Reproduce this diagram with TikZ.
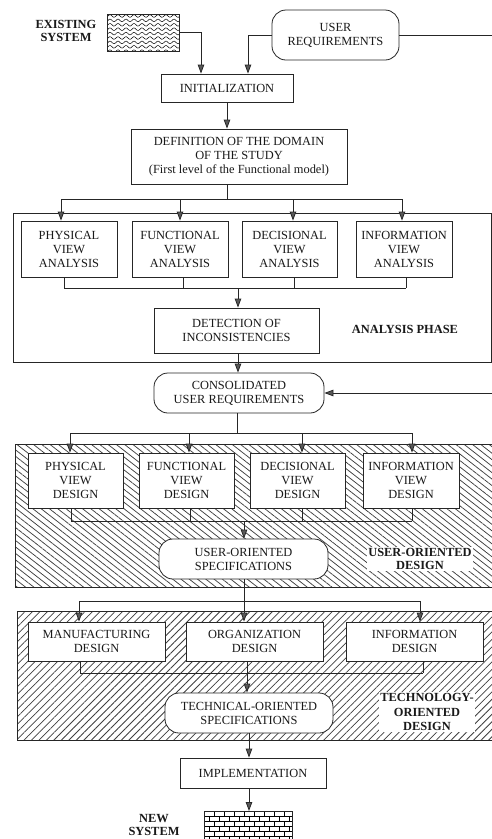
\documentclass[tikz,border=0pt]{standalone}
\usepackage{fontspec}
\setmainfont{Liberation Serif}
\usetikzlibrary{arrows.meta,calc,patterns.meta}
\begin{document}
\begin{tikzpicture}[x=1pt,y=-1pt,
  every node/.style={font=\fontsize{12.4}{14}\selectfont, text=black!90},
  box/.style={draw=black!85, line width=0.8pt, fill=white, align=center, inner sep=0pt},
  rbox/.style={box, rounded corners=14pt},
  lbl/.style={font=\fontsize{12.4}{13.5}\selectfont\bfseries, align=center, inner sep=1.5pt},
  ln/.style={draw=black!85, line width=0.8pt},
  arr/.style={ln, -{Triangle[length=9pt,width=6.5pt,fill=black!65]}},
  frame/.style={draw=black!85, line width=0.8pt}
]
\useasboundingbox (0,0) rectangle (492,839);
\clip (0,0) rectangle (492,839);
\fill[white] (0,0) rectangle (492,839);

% ---------- hatched design regions ----------
\fill[pattern={Lines[angle=-38,distance=5.1pt,line width=0.75pt]}, pattern color=black!75]
  (15,444) rectangle (500,587);
\draw[frame] (500,444) -- (15,444) -- (15,587) -- (500,587);

\fill[pattern={Lines[angle=45,distance=5.3pt,line width=0.75pt]}, pattern color=black!75]
  (17,611) rectangle (500,740);
\draw[frame] (500,611) -- (17,611) -- (17,740) -- (500,740);

% analysis frame
\draw[frame] (13,213) rectangle (491,362);

% ---------- existing system (wavy texture) ----------
\begin{scope}
  \clip (107,14) rectangle (179,51);
  \foreach \r in {0,...,8}
    \draw[line width=0.5pt] plot[domain=105:181,samples=80,smooth]
      (\x,{16+4.4*\r+1.3*sin(45*\x)});
\end{scope}
\node[draw=black!85, line width=0.8pt, minimum width=72, minimum height=37, inner sep=0pt] (exist) at (143,32.5) {};
\node[lbl] (existlbl) at (66,31) {EXISTING\\SYSTEM};

% ---------- new system (brick texture) ----------
\begin{scope}
  \clip (204,811) rectangle (292,845);
  \foreach \r in {0,...,6} {
    \draw[line width=0.5pt] (204,{811+5*\r}) -- (292,{811+5*\r});
    \foreach \c in {-1,...,9}
      \draw[line width=0.5pt] ({204+10*\c+5*mod(\r,2)},{811+5*\r}) -- ++(0,5);
  }
\end{scope}
\node[draw=black!85, line width=0.8pt, minimum width=88, minimum height=40, inner sep=0pt, anchor=north] (newsys) at (248,811) {};
\node[lbl] (newlbl) at (154,825) {NEW\\SYSTEM};

% ---------- boxes ----------
\node[rbox, minimum width=127, minimum height=50] (ureq) at (335.5,35) {USER\\REQUIREMENTS};
\node[box, minimum width=132, minimum height=28] (init) at (227,88) {INITIALIZATION};
\node[box, minimum width=216, minimum height=55] (def) at (239,156.5)
  {DEFINITION OF THE DOMAIN\\OF THE STUDY\\(First level of the Functional model)};

\node[box, minimum width=96, minimum height=56] (pa) at (69,249) {PHYSICAL\\VIEW\\ANALYSIS};
\node[box, minimum width=96, minimum height=56] (fa) at (180,249) {FUNCTIONAL\\VIEW\\ANALYSIS};
\node[box, minimum width=95, minimum height=56] (da) at (289.5,249) {DECISIONAL\\VIEW\\ANALYSIS};
\node[box, minimum width=96, minimum height=56] (ia) at (404,249) {INFORMATION\\VIEW\\ANALYSIS};
\node[box, minimum width=165, minimum height=45] (det) at (236.5,330.5) {DETECTION OF\\INCONSISTENCIES};
\node[lbl] (aplbl) at (405,329) {ANALYSIS PHASE};

\node[rbox, minimum width=170, minimum height=40] (cons) at (239,393) {CONSOLIDATED\\USER REQUIREMENTS};

\node[box, minimum width=95, minimum height=55] (pd) at (75.5,480.5) {PHYSICAL\\VIEW\\DESIGN};
\node[box, minimum width=95, minimum height=55] (fd) at (186.5,480.5) {FUNCTIONAL\\VIEW\\DESIGN};
\node[box, minimum width=95, minimum height=55] (dd) at (297.5,480.5) {DECISIONAL\\VIEW\\DESIGN};
\node[box, minimum width=96, minimum height=55] (id) at (411,480.5) {INFORMATION\\VIEW\\DESIGN};
\node[rbox, minimum width=169, minimum height=40] (uos) at (243.5,559) {USER-ORIENTED\\SPECIFICATIONS};
\node[lbl, fill=white, font=\fontsize{12.4}{12.5}\selectfont\bfseries] (uolbl) at (420,559) {USER-ORIENTED\\DESIGN};

\node[box, minimum width=137, minimum height=39] (md) at (96.5,641.5) {MANUFACTURING\\DESIGN};
\node[box, minimum width=137, minimum height=39] (od) at (254.5,641.5) {ORGANIZATION\\DESIGN};
\node[box, minimum width=137, minimum height=39] (infd) at (414.5,641.5) {INFORMATION\\DESIGN};
\node[rbox, minimum width=168, minimum height=40] (tos) at (249,713) {TECHNICAL-ORIENTED\\SPECIFICATIONS};
\node[lbl, fill=white, font=\fontsize{12.4}{14.5}\selectfont\bfseries] (tolbl) at (427,712) {TECHNOLOGY-\\ORIENTED\\DESIGN};

\node[box, minimum width=146, minimum height=30] (impl) at (253,773) {IMPLEMENTATION};

% ---------- connectors ----------
% inputs to initialization
\coordinate (e1) at (201,32.5);
\coordinate (u1) at (248,35);
\draw[arr] (exist.east) -- (e1) -- (e1 |- init.north);
\draw[arr] (ureq.west) -- (u1) -- (u1 |- init.north);
\coordinate (r1) at (500,35);
\coordinate (r2) at (500,393);
\draw[arr] (ureq.east) -- (r1) -- (r2) -- (cons.east);

\draw[arr] (init.south) -- (init.south |- def.north);

% fan-out to the four analyses
\coordinate (b0) at (227,199);
\coordinate (a1) at (61,199);
\coordinate (a2) at (180,199);
\coordinate (a3) at (293,199);
\coordinate (a4) at (402,199);
\draw[ln] (def.south -| b0) -- (b0);
\draw[ln] (a1) -- (a4);
\foreach \n/\b in {a1/pa,a2/fa,a3/da,a4/ia} \draw[arr] (\n) -- (\n |- \b.north);

% merge into detection
\coordinate (c1) at (64,288);
\coordinate (c2) at (183,288);
\coordinate (c3) at (294,288);
\coordinate (c4) at (406,288);
\coordinate (c0) at (238,288);
\foreach \n/\b in {c1/pa,c2/fa,c3/da,c4/ia} \draw[ln] (\n |- \b.south) -- (\n);
\draw[ln] (c1) -- (c4);
\draw[arr] (c0) -- (c0 |- det.north);
\draw[arr] (det.south -| c0) -- (c0 |- cons.north);

% fan-out to the four designs
\coordinate (d0) at (237,433);
\coordinate (d1) at (70,433);
\coordinate (d2) at (189,433);
\coordinate (d3) at (302,433);
\coordinate (d4) at (412,433);
\draw[ln] (cons.south -| d0) -- (d0);
\draw[ln] (d1) -- (d4);
\foreach \n/\b in {d1/pd,d2/fd,d3/dd,d4/id} \draw[arr] (\n) -- (\n |- \b.north);

% merge into user-oriented specifications
\coordinate (f0) at (244,521);
\coordinate (f1) at (71,521);
\coordinate (f2) at (190,521);
\coordinate (f3) at (302,521);
\coordinate (f4) at (412,521);
\foreach \n/\b in {f1/pd,f2/fd,f3/dd,f4/id} \draw[ln] (\n |- \b.south) -- (\n);
\draw[ln] (f1) -- (f4);
\draw[arr] (f0) -- (f0 |- uos.north);

% fan-out to the three technical designs
\coordinate (g0) at (244,601);
\coordinate (g1) at (79,601);
\coordinate (g3) at (420,601);
\draw[ln] (uos.south -| g0) -- (g0);
\draw[ln] (g1) -- (g3);
\draw[arr] (g1) -- (g1 |- md.north);
\draw[arr] (g0) -- (g0 |- od.north);
\draw[arr] (g3) -- (g3 |- infd.north);

% merge into technical-oriented specifications
\coordinate (h0) at (247,673);
\coordinate (h1) at (80,673);
\coordinate (h3) at (423,673);
\draw[ln] (h1 |- md.south) -- (h1);
\draw[ln] (h0 |- od.south) -- (h0);
\draw[ln] (h3 |- infd.south) -- (h3);
\draw[ln] (h1) -- (h3);
\draw[arr] (h0) -- (h0 |- tos.north);

% implementation and new system
\coordinate (k0) at (249,733);
\draw[arr] (tos.south -| k0) -- (k0 |- impl.north);
\draw[arr] (impl.south -| k0) -- (k0 |- newsys.north);
\end{tikzpicture}
\end{document}
